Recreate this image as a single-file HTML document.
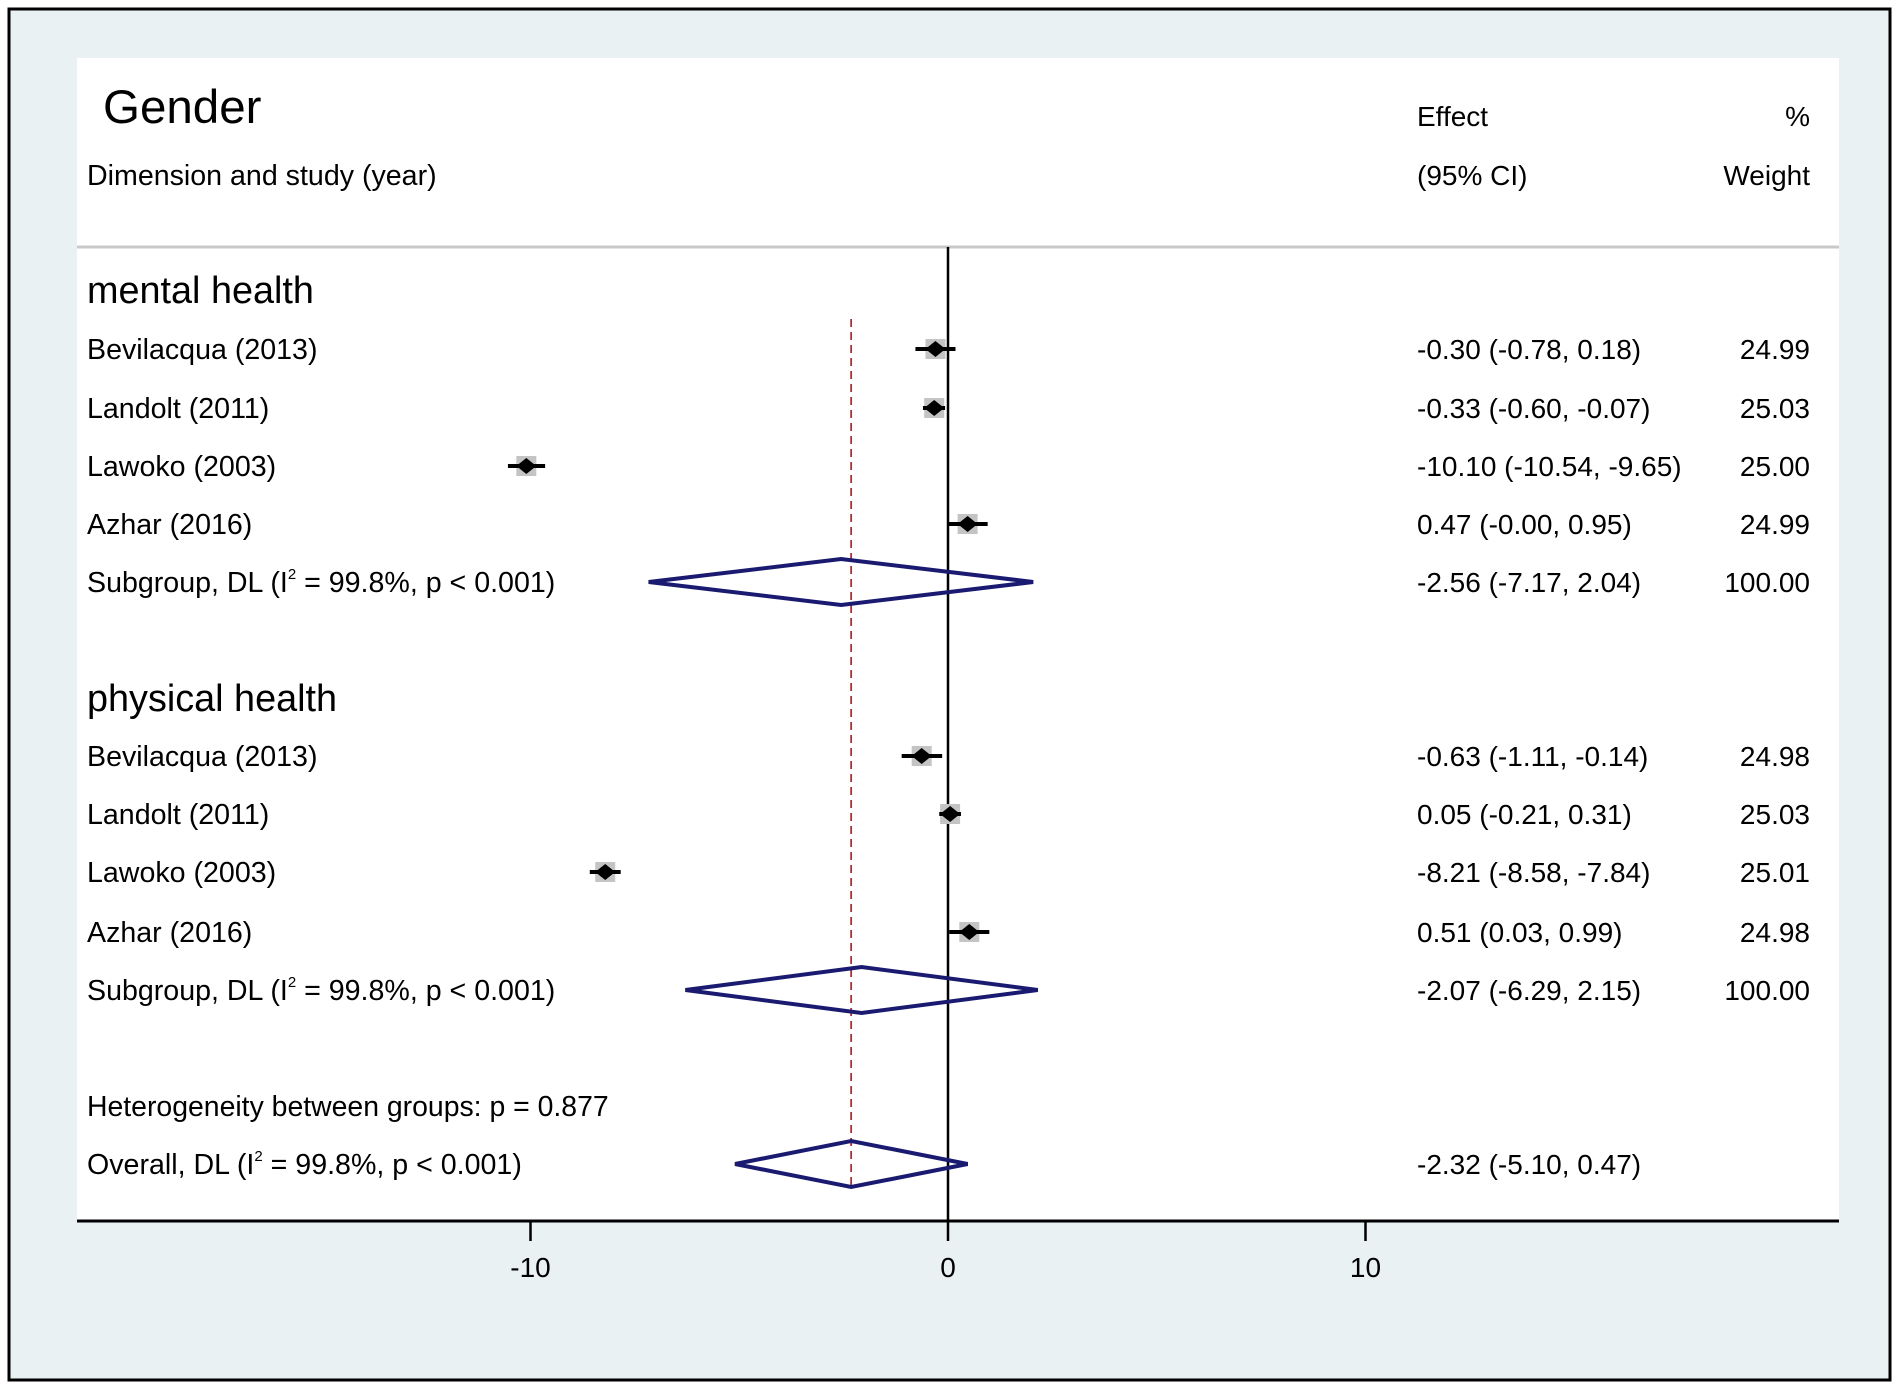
<!DOCTYPE html>
<html><head><meta charset="utf-8"><style>
body{margin:0;background:#fff;}
svg{display:block;}
text{font-family:"Liberation Sans",sans-serif;fill:#000;}
</style></head><body>
<svg id="chart" width="1902" height="1389" viewBox="0 0 1902 1389">
<rect x="0" y="0" width="1902" height="1389" fill="#ffffff"/>
<rect x="9" y="9" width="1881" height="1371" fill="#e9f1f3" stroke="#000" stroke-width="3"/>
<rect x="77" y="58" width="1762" height="1163" fill="#ffffff"/>
<line x1="77" y1="247" x2="1839" y2="247" stroke="#c8c8c8" stroke-width="3"/>
<text x="103" y="123" font-size="47.5">Gender</text>
<text x="87" y="185" font-size="28.6">Dimension and study (year)</text>
<text x="1417" y="126" font-size="28">Effect</text>
<text x="1417" y="185" font-size="28">(95% CI)</text>
<text x="1810" y="126" font-size="28" text-anchor="end">%</text>
<text x="1810" y="185" font-size="28" text-anchor="end">Weight</text>
<g id="marks"></g>
</svg>
<script>
const labels=["Bevilacqua (2013)","Landolt (2011)","Lawoko (2003)","Azhar (2016)","Subgroup","Bevilacqua (2013)","Landolt (2011)","Lawoko (2003)","Azhar (2016)","Subgroup","Overall"];
const effects=[-0.30,-0.33,-10.10,0.47,-2.56,-0.63,0.05,-8.21,0.51,-2.07,-2.32];
const lower=[-0.78,-0.60,-10.54,0.00,-7.17,-1.11,-0.21,-8.58,0.03,-6.29,-5.10];
const upper=[0.18,-0.07,-9.65,0.95,2.04,-0.14,0.31,-7.84,0.99,2.15,0.47];
const effectText=["-0.30 (-0.78, 0.18)","-0.33 (-0.60, -0.07)","-10.10 (-10.54, -9.65)","0.47 (-0.00, 0.95)","-2.56 (-7.17, 2.04)","-0.63 (-1.11, -0.14)","0.05 (-0.21, 0.31)","-8.21 (-8.58, -7.84)","0.51 (0.03, 0.99)","-2.07 (-6.29, 2.15)","-2.32 (-5.10, 0.47)"];
const weights=["24.99","25.03","25.00","24.99","100.00","24.98","25.03","25.01","24.98","100.00",""];
const kinds=["study","study","study","study","sub","study","study","study","study","sub","overall"];
const rowY=[349,408,466,524,582,756,814,872,932,990,1164];
const xTicks=[-10,0,10];
const ns="http://www.w3.org/2000/svg";
const g=document.getElementById('marks');
function X(v){return 948+v*41.75;}
function mk(t,a){const e=document.createElementNS(ns,t);for(const k in a)e.setAttribute(k,a[k]);g.appendChild(e);return e;}
function txt(x,y,s,size,anchor){const e=mk('text',{x:x,y:y,'font-size':size,'text-anchor':anchor||'start'});e.textContent=s;return e;}
let e=txt(87,303,"mental health",37.8);


e=txt(87,711,"physical health",37.8);


e=txt(87,1116,"Heterogeneity between groups: p = 0.877",28.4);


e=mk('line',{x1:X(0),y1:247,x2:X(0),y2:1221,stroke:'#000','stroke-width':2.5});


const ov=effects[effects.length-1];
e=mk('line',{x1:X(ov),y1:319,x2:X(ov),y2:1189,stroke:'#b03030','stroke-width':1.8,'stroke-dasharray':'8,5'});


for(let i=0;i<labels.length;i++){
  const y=rowY[i];
  let lab;
  if(kinds[i]==='study'){lab=txt(87,y+10,labels[i],28.6);}
  else{
    const pre=kinds[i]==='sub'?'Subgroup, DL (I':'Overall, DL (I';
    lab=mk('text',{x:87,y:y+10,'font-size':28.6});
    lab.innerHTML=pre+'<tspan dy="-13" font-size="15">2</tspan><tspan dy="13"> = 99.8%, p &lt; 0.001)</tspan>';
  }
  
  
  e=txt(1417,y+10,effectText[i],28);
  
  
  if(weights[i]){e=txt(1810,y+10,weights[i],28,'end');
  
  }
  if(kinds[i]==='study'){
    e=mk('rect',{x:X(effects[i])-10,y:y-10,width:20,height:20,fill:'#c4c4c4'});
    
    
    e=mk('line',{x1:X(lower[i]),y1:y,x2:X(upper[i]),y2:y,stroke:'#000','stroke-width':4});
    
    
    const cx=X(effects[i]);
    e=mk('polygon',{points:`${cx-10},${y} ${cx},${y-8} ${cx+10},${y} ${cx},${y+8}`,fill:'#000'});
    
    
  } else {
    const cx=X(effects[i]);
    e=mk('polygon',{points:`${X(lower[i])},${y} ${cx},${y-23} ${X(upper[i])},${y} ${cx},${y+23}`,fill:'none',stroke:'#1a1a70','stroke-width':4});
    
    
  }
}
e=mk('line',{x1:77,y1:1221,x2:1839,y2:1221,stroke:'#000','stroke-width':3});


for(const t of xTicks){
  e=mk('line',{x1:X(t),y1:1221,x2:X(t),y2:1241,stroke:'#000','stroke-width':2.5});
  
  
  e=txt(X(t),1277,String(t),28,'middle');
  
  
}
</script>
</body></html>
